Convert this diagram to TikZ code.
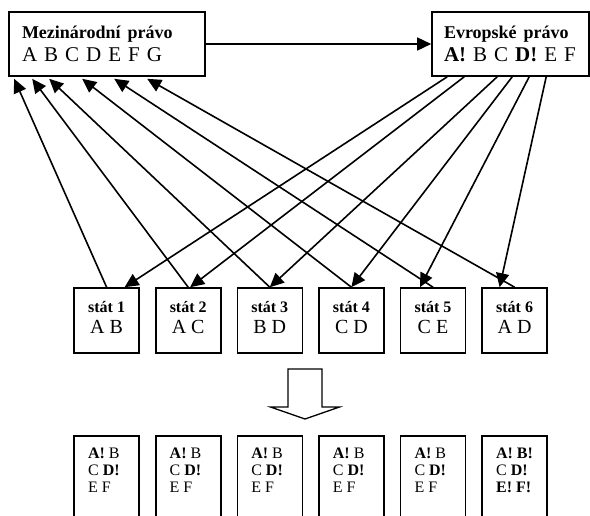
\documentclass[tikz,border=0pt]{standalone}
\usepackage{fontspec}
\setmainfont{Liberation Serif}
\usetikzlibrary{arrows.meta,calc}
\tikzset{
	box/.style={draw,line width=1.6pt,inner sep=0pt},
	topbox/.style={box,minimum height=64pt,align=left,font=\fontsize{21}{23}\selectfont},
	statbox/.style={box,minimum width=65pt,minimum height=65pt,align=center,text depth=6pt,font=\fontsize{20}{21}\selectfont},
	resbox/.style={box,anchor=north,inner xsep=14pt,inner ysep=12pt,font=\fontsize{16}{17}\selectfont},
	arr/.style={line width=1.6pt,-{Triangle[length=14pt,width=13pt]}}
}
\newcommand{\titul}[1]{{\fontsize{18}{23}\selectfont\bfseries #1}}
\newcommand{\statlab}[1]{{\fontsize{16}{21}\selectfont\bfseries #1}}
\newcommand{\vysl}{\textbf{A!} B\\C \textbf{D!}\\E F}
\begin{document}
\begin{tikzpicture}[x=1pt,y=-1pt]
	\useasboundingbox (0,0) rectangle (590,515);
	
	\node[topbox,text width=170pt,inner xsep=13pt] (mezi) at (107,44) {\titul{Mezinárodní právo}\\A B C D E F G};
	\node[topbox,text width=133pt,inner xsep=12pt] (evro) at (510.5,44) {\titul{Evropské právo}\\\textbf{A!} B C \textbf{D!} E F};
	\draw[arr] (mezi) -- (evro);
	
	\foreach \t [count=\i] in {A B,A C,B D,C D,C E,A D}% staty
	{\node[statbox] (s\i) at (25+81.6*\i,320.5) {\statlab{stát \i}\\\t};}
	
	\foreach \i/\m/\e/\d in {1/6/16/18,2/24/33/2,3/41/66/0,4/74/81/0,5/106/98/-13,6/139/115/-15}
	{\draw[arr] (s\i.north) -- ($(mezi.south west)+(\m,2)$);% nahoru k mezinarodnimu
	\draw[arr] ($(evro.south west)+(\e,0)$) -- ($(s\i.north)+(\d,0)$);}% dolu od evropskeho
	
	\coordinate (sipka) at (305,369);% duta sipka
	\draw[line width=1.3pt] (sipka) ++(-17,0) -- ++(0,38) -- ++(-17.5,0) -- ++(34.5,12) -- ++(34.5,-12) -- ++(-17.5,0) -- ++(0,-38) -- cycle;
	
	\foreach \t [count=\i] in {\vysl,\vysl,\vysl,\vysl,\vysl,{\textbf{A! B!}\\C \textbf{D!}\\\textbf{E! F!}}}% vysledky
	{\node[resbox] (r\i) at (25+81.6*\i,435) {\parbox[t][66pt][t]{37pt}{\t}};}
\end{tikzpicture}
\end{document}
